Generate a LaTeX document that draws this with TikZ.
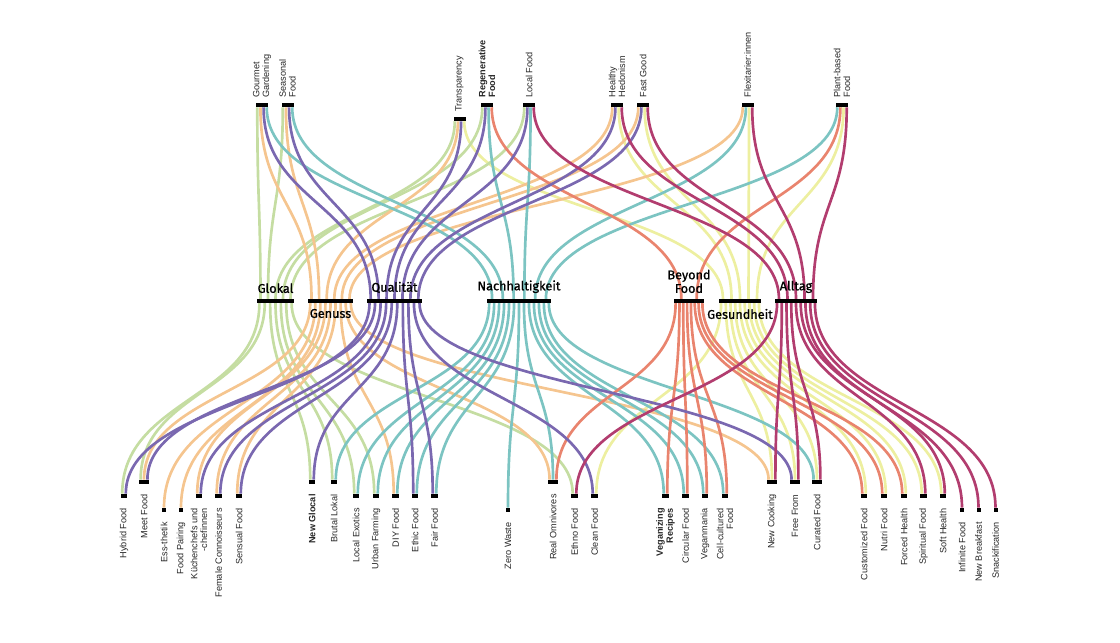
\documentclass[tikz,border=0pt]{standalone}
\usepackage{fontspec}
\setmainfont{Liberation Sans}
\newfontfamily\catfont{Fira Sans}[FakeBold=1]
\usetikzlibrary{calc,positioning}

\definecolor{cglokal}{HTML}{C5DDA2}
\definecolor{cgenuss}{HTML}{F5C58F}
\definecolor{cquali}{HTML}{7A68B0}
\definecolor{cnachh}{HTML}{7CC4C2}
\definecolor{cbeyond}{HTML}{E9846E}
\definecolor{cgesund}{HTML}{EDEFA0}
\definecolor{calltag}{HTML}{B23D6F}

% flow: colour, upper node, slot, of n, lower node, slot, of m
\newcommand\flow[7]{%
  \draw[flow,#1] let \p1=(#2.south), \p2=(#2.east), \p3=(#2.west),
      \p4=(#5.north), \p5=(#5.east), \p6=(#5.west),
      \n1={(\x2-\x3)*((#3-0.5)/#4-0.5)},
      \n2={(\x5-\x6)*((#6-0.5)/#7-0.5)},
      \n3={(\y1+\y4)/2} in
    ({\x1+\n1},\y1) .. controls ({\x1+\n1},\n3) and ({\x4+\n2},\n3) .. ({\x4+\n2},\y4);}

\tikzset{
  trendbar/.style={fill=black, inner sep=0pt, minimum height=0.1cm},
  bar1/.style={trendbar, minimum width=0.1cm},
  bar2/.style={trendbar, minimum width=0.165cm},
  bar3/.style={trendbar, minimum width=0.24cm},
  bar4/.style={trendbar, minimum width=0.3cm},
  catbar/.style={fill=black, inner sep=0pt, minimum height=0.09cm},
  flow/.style={line width=1.9pt},
  toplab/.style={rotate=90, anchor=west, align=left, inner sep=1pt, text=black!85, font=\fontsize{6.5}{7}\selectfont},
  botlab/.style={rotate=90, anchor=east, align=right, inner sep=1pt, text=black!85, font=\fontsize{6.5}{7}\selectfont},
  catlab/.style={align=center, inner sep=1pt, font=\catfont\fontsize{9}{8}\selectfont},
}

\begin{document}
\begin{tikzpicture}[x=0.025cm, y=0.025cm]
\useasboundingbox (0,0) rectangle (1120,643);

% upper trends
\node[bar4] (gourmet)  at (262,538) {};
\node[bar4] (seasonal) at (287.5,538) {};
\node[bar4] (transp)   at (459.5,524) {};
\node[bar4] (regen)    at (487,538) {};
\node[bar4] (localf)   at (529,538) {};
\node[bar4] (hedon)    at (617,538) {};
\node[bar4] (fastgood) at (643,538) {};
\node[bar4] (flexi)    at (747.5,538) {};
\node[bar4] (plant)    at (842,538) {};

% categories
\node[catbar, minimum width=0.925cm] (glokal) at (275.5,342) {};
\node[catbar, minimum width=1.125cm] (genuss) at (330.5,342) {};
\node[catbar, minimum width=1.375cm] (quali)  at (394.5,342) {};
\node[catbar, minimum width=1.6cm]   (nachh)  at (519,342) {};
\node[catbar, minimum width=0.75cm]  (beyond) at (689,342) {};
\node[catbar, minimum width=1.05cm]  (gesund) at (740,342) {};
\node[catbar, minimum width=1.05cm]  (alltag) at (796,342) {};

% lower trends
\node[bar2] (hybrid)     at (124,147) {};
\node[bar3] (meet)       at (144,161) {};
\node[bar1] (essthetik)  at (164,133) {};
\node[bar1] (pairing)    at (181,133) {};
\node[bar2] (chefs)      at (199,147) {};
\node[bar2] (female)     at (218.5,147) {};
\node[bar2] (sensual)    at (239,147) {};
\node[bar2] (newglocal)  at (312,161) {};
\node[bar2] (brutal)     at (334,161) {};
\node[bar2] (exotics)    at (356,147) {};
\node[bar2] (urban)      at (376,147) {};
\node[bar2] (diy)        at (395.5,147) {};
\node[bar2] (ethic)      at (415,147) {};
\node[bar2] (fair)       at (434.5,147) {};
\node[bar1] (zerowaste)  at (508,133) {};
\node[bar3] (omni)       at (553,161) {};
\node[bar2] (ethno)      at (574.5,147) {};
\node[bar2] (clean)      at (594.5,147) {};
\node[bar2] (veganizing) at (665.5,147) {};
\node[bar2] (circular)   at (685.5,147) {};
\node[bar2] (veganmania) at (705,147) {};
\node[bar2] (cellcult)   at (725,147) {};
\node[bar3] (newcooking) at (772,161) {};
\node[bar3] (freefrom)   at (795,161) {};
\node[bar3] (curated)    at (817,161) {};
\node[bar2] (customized) at (864,147) {};
\node[bar2] (nutri)      at (884,147) {};
\node[bar2] (forced)     at (904,147) {};
\node[bar2] (spiritual)  at (923.5,147) {};
\node[bar2] (softhealth) at (943,147) {};
\node[bar1] (infinite)   at (962,133) {};
\node[bar1] (breakfast)  at (978.5,133) {};
\node[bar1] (snack)      at (995.5,133) {};

% flows, upper trends to categories
\foreach \t/\j/\i in {transp/4/1, hedon/3/2, fastgood/3/3, flexi/3/4, plant/3/5}
  {\flow{cgesund}{\t}{\j}{4}{gesund}{\i}{5}}
\foreach \t/\j/\i in {gourmet/1/1, seasonal/1/2, transp/1/3, regen/1/4, localf/1/5}
  {\flow{cglokal}{\t}{\j}{4}{glokal}{\i}{5}}
\foreach \t/\j/\i in {gourmet/2/1, seasonal/2/2, transp/2/3, hedon/1/4, fastgood/1/5, flexi/1/6}
  {\flow{cgenuss}{\t}{\j}{4}{genuss}{\i}{6}}
\foreach \t/\j/\i in {gourmet/4/1, seasonal/4/2, regen/3/3, localf/3/4, flexi/2/5, plant/1/6}
  {\flow{cnachh}{\t}{\j}{4}{nachh}{\i}{6}}
\foreach \t/\j/\i in {regen/4/1, plant/2/2}
  {\flow{cbeyond}{\t}{\j}{4}{beyond}{\i}{2}}
\foreach \t/\j/\i in {gourmet/3/1, seasonal/3/2, transp/3/3, regen/2/4, localf/2/5, hedon/2/6, fastgood/2/7}
  {\flow{cquali}{\t}{\j}{4}{quali}{\i}{7}}
\foreach \t/\j/\i in {localf/4/1, hedon/4/2, fastgood/4/3, flexi/4/4, plant/4/5}
  {\flow{calltag}{\t}{\j}{4}{alltag}{\i}{5}}

% flows, categories to lower trends
\foreach \t/\i/\j/\m in {clean/1/2/2, newcooking/2/2/3, freefrom/3/2/3, curated/4/2/3, customized/5/2/2,
    nutri/6/2/2, forced/7/2/2, spiritual/8/1/2, softhealth/9/1/2}
  {\flow{cgesund}{gesund}{\i}{9}{\t}{\j}{\m}}
\foreach \t/\i/\j/\m in {hybrid/1/1/2, meet/2/1/3, newglocal/3/1/2, brutal/4/1/2, exotics/5/1/2,
    urban/6/1/2, ethno/7/1/2}
  {\flow{cglokal}{glokal}{\i}{7}{\t}{\j}{\m}}
\foreach \t/\i/\j/\m in {meet/1/2/3, essthetik/2/1/1, pairing/3/1/1, chefs/4/1/2, female/5/1/2,
    sensual/6/1/2, diy/7/1/2, omni/8/1/3, newcooking/9/1/3}
  {\flow{cgenuss}{genuss}{\i}{9}{\t}{\j}{\m}}
\foreach \t/\i/\j/\m in {brutal/1/2/2, exotics/2/2/2, urban/3/2/2, diy/4/2/2, ethic/5/2/2, fair/6/2/2,
    zerowaste/7/1/1, omni/8/2/3, veganizing/9/1/2, circular/10/1/2, veganmania/11/1/2,
    cellcult/12/1/2, curated/13/1/3}
  {\flow{cnachh}{nachh}{\i}{13}{\t}{\j}{\m}}
\foreach \t/\i/\j/\m in {omni/1/3/3, veganizing/2/2/2, circular/3/2/2, veganmania/4/2/2, cellcult/5/2/2,
    customized/6/1/2, nutri/7/1/2, forced/8/1/2}
  {\flow{cbeyond}{beyond}{\i}{8}{\t}{\j}{\m}}
\foreach \t/\i/\j/\m in {hybrid/1/2/2, meet/2/3/3, chefs/3/2/2, female/4/2/2, sensual/5/2/2,
    newglocal/6/2/2, ethic/7/1/2, fair/8/1/2, clean/9/1/2, freefrom/10/1/3}
  {\flow{cquali}{quali}{\i}{10}{\t}{\j}{\m}}
\foreach \t/\i/\j/\m in {ethno/1/2/2, newcooking/2/3/3, freefrom/3/3/3, curated/4/3/3, spiritual/5/2/2,
    softhealth/6/2/2, infinite/7/1/1, breakfast/8/1/1, snack/9/1/1}
  {\flow{calltag}{alltag}{\i}{9}{\t}{\j}{\m}}

% category labels
\node[catlab, above=3pt of glokal] (glokal-l) {Glokal};
\node[catlab, below=3pt of genuss] (genuss-l) {Genuss};
\node[catlab, above=3pt of quali] (quali-l) {Qualität};
\node[catlab, above=3pt of nachh] (nachh-l) {Nachhaltigkeit};
\node[catlab, above=3pt of beyond] (beyond-l) {Beyond\\Food};
\node[catlab, below=3pt of gesund] (gesund-l) {Gesundheit};
\node[catlab, above=3pt of alltag] (alltag-l) {Alltag};

% upper labels
\node[toplab] (gourmet-l)  at ($(gourmet.north)+(0,2.5pt)$) {Gourmet\\Gardening};
\node[toplab] (seasonal-l) at ($(seasonal.north)+(0,2.5pt)$) {Seasonal\\Food};
\node[toplab] (transp-l)   at ($(transp.north)+(0,2.5pt)$) {Transparency};
\node[toplab, font=\fontsize{6.5}{7}\selectfont\bfseries] (regen-l) at ($(regen.north)+(0,2.5pt)$) {Regenerative\\Food};
\node[toplab] (localf-l)   at ($(localf.north)+(0,2.5pt)$) {Local Food};
\node[toplab] (hedon-l)    at ($(hedon.north)+(0,2.5pt)$) {Healthy\\Hedonism};
\node[toplab] (fastgood-l) at ($(fastgood.north)+(0,2.5pt)$) {Fast Good};
\node[toplab] (flexi-l)    at ($(flexi.north)+(0,2.5pt)$) {Flexitarier:innen};
\node[toplab] (plant-l)    at ($(plant.north)+(0,2.5pt)$) {Plant-based\\Food};

% lower labels
\node[botlab] (hybrid-l)     at ($(hybrid.south)+(0,-6pt)$) {Hybrid Food};
\node[botlab] (meet-l)       at ($(meet.south)+(0,-6pt)$) {Meet Food};
\node[botlab] (essthetik-l)  at ($(essthetik.south)+(0,-6pt)$) {Ess-thetik};
\node[botlab] (pairing-l)    at ($(pairing.south)+(0,-6pt)$) {Food Pairing};
\node[botlab] (chefs-l)      at ($(chefs.south)+(0,-6pt)$) {Küchenchefs und\\-chefinnen};
\node[botlab] (female-l)     at ($(female.south)+(0,-6pt)$) {Female Connoisseurs};
\node[botlab] (sensual-l)    at ($(sensual.south)+(0,-6pt)$) {Sensual Food};
\node[botlab, font=\fontsize{6.5}{7}\selectfont\bfseries] (newglocal-l) at ($(newglocal.south)+(0,-6pt)$) {New Glocal};
\node[botlab] (brutal-l)     at ($(brutal.south)+(0,-6pt)$) {Brutal Lokal};
\node[botlab] (exotics-l)    at ($(exotics.south)+(0,-6pt)$) {Local Exotics};
\node[botlab] (urban-l)      at ($(urban.south)+(0,-6pt)$) {Urban Farming};
\node[botlab] (diy-l)        at ($(diy.south)+(0,-6pt)$) {DIY Food};
\node[botlab] (ethic-l)      at ($(ethic.south)+(0,-6pt)$) {Ethic Food};
\node[botlab] (fair-l)       at ($(fair.south)+(0,-6pt)$) {Fair Food};
\node[botlab] (zerowaste-l)  at ($(zerowaste.south)+(0,-6pt)$) {Zero Waste};
\node[botlab] (omni-l)       at ($(omni.south)+(0,-6pt)$) {Real Omnivores};
\node[botlab] (ethno-l)      at ($(ethno.south)+(0,-6pt)$) {Ethno Food};
\node[botlab] (clean-l)      at ($(clean.south)+(0,-6pt)$) {Clean Food};
\node[botlab, font=\fontsize{6.5}{7}\selectfont\bfseries] (veganizing-l) at ($(veganizing.south)+(0,-6pt)$) {Veganizing\\Recipes};
\node[botlab] (circular-l)   at ($(circular.south)+(0,-6pt)$) {Circular Food};
\node[botlab] (veganmania-l) at ($(veganmania.south)+(0,-6pt)$) {Veganmania};
\node[botlab] (cellcult-l)   at ($(cellcult.south)+(0,-6pt)$) {Cell-cultured\\Food};
\node[botlab] (newcooking-l) at ($(newcooking.south)+(0,-6pt)$) {New Cooking};
\node[botlab] (freefrom-l)   at ($(freefrom.south)+(0,-6pt)$) {Free From};
\node[botlab] (curated-l)    at ($(curated.south)+(0,-6pt)$) {Curated Food};
\node[botlab] (customized-l) at ($(customized.south)+(0,-6pt)$) {Customized Food};
\node[botlab] (nutri-l)      at ($(nutri.south)+(0,-6pt)$) {Nutri Food};
\node[botlab] (forced-l)     at ($(forced.south)+(0,-6pt)$) {Forced Health};
\node[botlab] (spiritual-l)  at ($(spiritual.south)+(0,-6pt)$) {Spiritual Food};
\node[botlab] (softhealth-l) at ($(softhealth.south)+(0,-6pt)$) {Soft Health};
\node[botlab] (infinite-l)   at ($(infinite.south)+(0,-6pt)$) {Infinite Food};
\node[botlab] (breakfast-l)  at ($(breakfast.south)+(0,-6pt)$) {New Breakfast};
\node[botlab] (snack-l)      at ($(snack.south)+(0,-6pt)$) {Snackification};
\end{tikzpicture}
\end{document}
